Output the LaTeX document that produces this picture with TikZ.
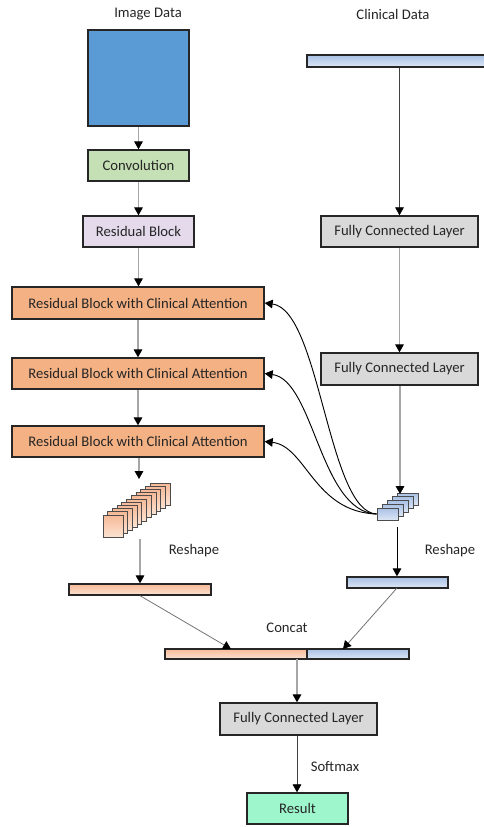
\documentclass[tikz,border=0pt]{standalone}
\usepackage{fontspec}
\setmainfont{Carlito}
\usetikzlibrary{arrows.meta,fit}
\definecolor{imgblue}{HTML}{5B9BD5}
\definecolor{convgreen}{HTML}{C5E0B4}
\definecolor{respurple}{HTML}{E4DAEC}
\definecolor{rbcaorange}{HTML}{F4B183}
\definecolor{fcgray}{HTML}{D9D9D9}
\definecolor{resmint}{HTML}{9EF7CC}
\definecolor{bluetop}{HTML}{A9C1E6}
\definecolor{bluebot}{HTML}{DDE6F5}
\definecolor{orangetop}{HTML}{F6B996}
\definecolor{orangebot}{HTML}{FCE3D3}
\definecolor{linegray}{HTML}{A6A6A6}
\definecolor{edge}{HTML}{262626}
\begin{document}
\begin{tikzpicture}[x=0.75pt,y=-0.75pt,
  font=\fontsize{11}{13}\selectfont,
  box/.style={draw=edge, line width=1pt, inner sep=0pt},
  bluebar/.style={box, top color=bluetop, bottom color=bluebot},
  orangebar/.style={box, top color=orangetop, bottom color=orangebot},
  txt/.style={inner sep=0pt, text=black!85},
  tip/.style={-{Triangle[length=6pt,width=6.5pt,color=black]}},
  conn/.style={tip, draw=linegray, line width=0.8pt},
  darkconn/.style={tip, draw=black!75, line width=0.6pt},
  curve/.style={tip, draw=black, line width=0.7pt},
  lbl/.style={inner sep=0pt, text=black!85}]
\useasboundingbox (0,0) rectangle (483,827);

% labels
\node[lbl] (limg) at (148,14) {Image Data};
\node[lbl] (lcli) at (393,14) {Clinical Data};
\node[lbl] (lresh1) at (194,551) {Reshape};
\node[lbl] (lresh2) at (450,551) {Reshape};
\node[lbl] (lconcat) at (287,628) {Concat};
\node[lbl] (lsoft) at (335,767) {Softmax};

% image branch
\node[box, fill=imgblue, fit={(88,30) (189,126)}] (img) {};
\node[box, fill=convgreen, fit={(88,150) (189,181)}] (conv) {};
\node[txt] (tconv) at (conv.center) {Convolution};
\node[box, fill=respurple, fit={(83,216) (194,247)}] (res) {};
\node[txt] (tres) at (res.center) {Residual Block};
\node[box, fill=rbcaorange, fit={(12,287) (264,319)}] (rb1) {};
\node[txt] (trb1) at (rb1.center) {Residual Block with Clinical Attention};
\node[box, fill=rbcaorange, fit={(12,358) (264,389)}] (rb2) {};
\node[txt] (trb2) at (rb2.center) {Residual Block with Clinical Attention};
\node[box, fill=rbcaorange, fit={(12,426) (264,457)}] (rb3) {};
\node[txt] (trb3) at (rb3.center) {Residual Block with Clinical Attention};

% orange stack
\foreach \i in {10,9,...,1}{
  \path[draw=black!70, line width=0.6pt, top color=orangetop, bottom color=orangebot]
    ({103+4.7*\i},{515-3.2*\i}) rectangle ({123+4.7*\i},{537-3.2*\i});
}
\node[draw=black!70, line width=0.6pt, top color=orangetop, bottom color=orangebot, inner sep=0pt, fit={(103,515) (123,537)}] (ost) {};
\coordinate (ostin) at (139,479);
\coordinate (ostout) at (140,539);

\node[orangebar, fit={(69,584) (211,595)}] (lbar) {};

% clinical branch
\node[bluebar, fit={(307,55) (490,67)}] (cbar) {};
\node[box, fill=fcgray, fit={(321,216) (478,247)}] (fc1) {};
\node[txt] (tfc1) at (fc1.center) {Fully Connected Layer};
\node[box, fill=fcgray, fit={(321,353) (478,385)}] (fc2) {};
\node[txt] (tfc2) at (fc2.center) {Fully Connected Layer};

% blue stack
\foreach \i in {4,3,2,1}{
  \path[draw=black!70, line width=0.6pt, top color=bluetop, bottom color=bluebot]
    ({377+5*\i},{508-3.75*\i}) rectangle ({398+5*\i},{520-3.75*\i});
}
\node[draw=black!70, line width=0.6pt, top color=bluetop, bottom color=bluebot, inner sep=0pt, fit={(377,508) (398,520)}] (bst) {};
\coordinate (bstin) at (400,494);
\coordinate (bstout) at (397,527);

\node[bluebar, fit={(347,577) (448,588)}] (rbar) {};

% concat
\node[orangebar, fit={(165,649) (307,659)}] (cato) {};
\node[bluebar, fit={(307,649) (409,659)}] (catb) {};
\node[box, fill=fcgray, fit={(220,703) (377,735)}] (fc3) {};
\node[txt] (tfc3) at (fc3.center) {Fully Connected Layer};
\node[box, fill=resmint, fit={(247,793) (348,824)}] (result) {};
\node[txt] (tresult) at (result.center) {Result};

% connectors
\draw[conn] (img) -- (conv);
\draw[conn] (conv) -- (res);
\draw[conn] (res) -- (res |- rb1.north);
\draw[conn] (rb1) -- (rb2);
\draw[conn] (rb2) -- (rb3);
\draw[conn] (rb3.south -| ostin) -- (ostin);
\draw[conn] (ostout) -- (ostout |- lbar.north);

\draw[darkconn] (cbar.south -| fc1) -- (fc1);
\draw[conn] (fc1) -- (fc2);
\draw[conn] (fc2.south -| bstin) -- (bstin);
\draw[tip, draw=black, line width=0.7pt] (bstout) -- (bstout |- rbar.north);

\draw[curve] (bst.west) .. controls (328,512) and (320,310) .. (rb1.east);
\draw[curve] (bst.west) .. controls (320,512) and (314,380) .. (rb2.east);
\draw[curve] (bst.west) .. controls (314,512) and (306,446) .. (rb3.east);

\draw[darkconn, draw=black!55] (lbar.south) -- (231,649);
\draw[darkconn, draw=black!55] (397,588) -- (343,649);
\draw[conn] (297,659) -- (fc3.north -| 297,0);
\draw[darkconn] (fc3.south -| 297,0) -- (result.north -| 297,0);
\end{tikzpicture}
\end{document}
